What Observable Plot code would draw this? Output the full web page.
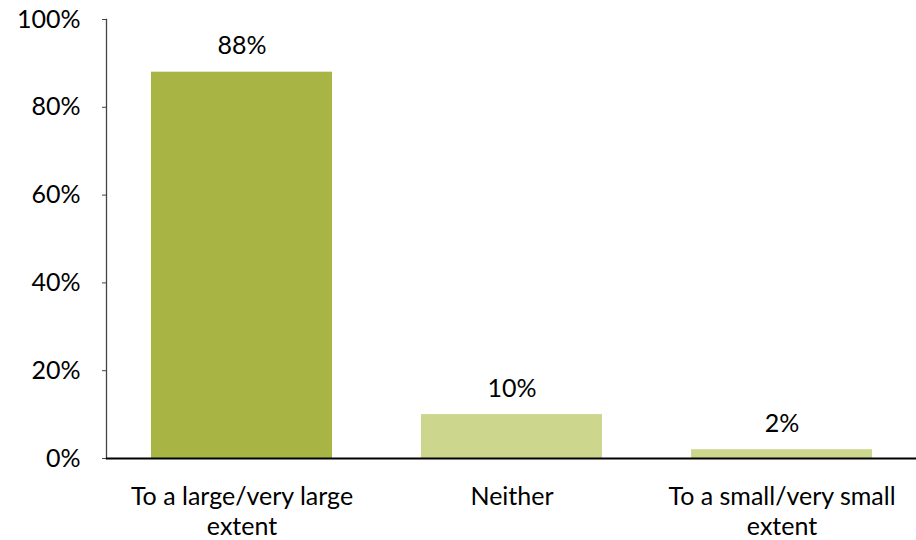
<!DOCTYPE html>
<html>
<head>
<meta charset="utf-8">
<script src="https://cdn.jsdelivr.net/npm/d3@7"></script>
<script src="https://cdn.jsdelivr.net/npm/@observablehq/plot@0.6"></script>
<style>
  html, body { margin: 0; padding: 0; background: #fff; }
  #chart { width: 916px; height: 540px; }
</style>
</head>
<body>
<div id="chart"></div>
<script>
const categories = ["To a large/very large extent", "Neither", "To a small/very small extent"];
const values = [88, 10, 2];
const barColors = ["#A8B545", "#CDD68D", "#CDD68D"];
const yTicks = [0, 20, 40, 60, 80, 100];
const xTickLabels = ["To a large/very large\nextent", "Neither", "To a small/very small\nextent"];

const data = categories.map((c, i) => ({category: c, value: values[i], color: barColors[i]}));

const FS = 25;
const chart = Plot.plot({
  width: 916,
  height: 540,
  marginLeft: 106,
  marginRight: 0,
  marginTop: 19,
  marginBottom: 82,
  style: {fontFamily: "Lato, 'Open Sans', sans-serif", fontSize: FS + "px", color: "#000", background: "#fff"},
  x: {domain: categories, paddingInner: 0.33, paddingOuter: 0.165, label: null},
  y: {domain: [0, 100], label: null},
  marks: [
    Plot.barY(data, {x: "category", y: "value", fill: "color"}),
    Plot.text(data, {x: "category", y: "value", text: d => d.value + "%", dy: -26, fill: "#000", fontSize: FS}),
    Plot.axisY({ticks: yTicks, tickFormat: d => d + "%", tickSize: 4, tickPadding: 22, stroke: "#444", fill: "#000", fontSize: FS, label: null}),
    Plot.frame({anchor: "left", stroke: "#444", strokeWidth: 1.3}),
    Plot.axisX({tickSize: 0, tickPadding: 25, tickFormat: (d) => xTickLabels[categories.indexOf(d)], lineHeight: 1.2, fill: "#000", fontSize: FS, label: null}),
    Plot.ruleY([0], {stroke: "#000", strokeWidth: 2})
  ]
});
document.getElementById("chart").appendChild(chart);
</script>
</body>
</html>
